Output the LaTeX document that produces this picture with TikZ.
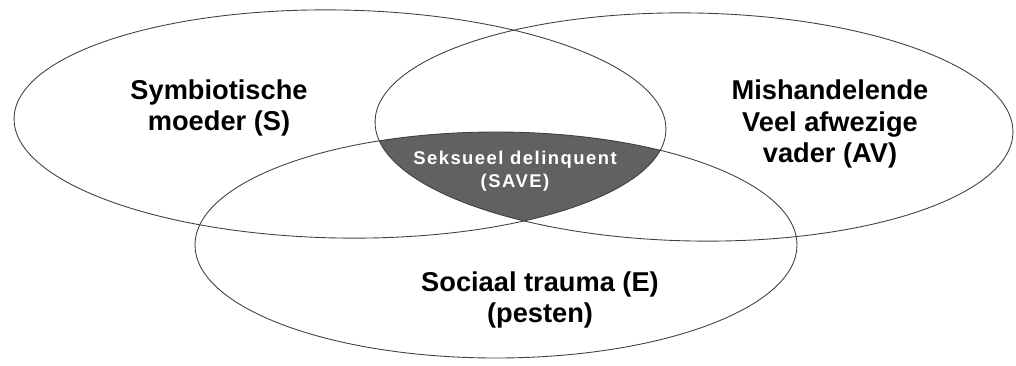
\documentclass[tikz,border=0pt]{standalone}
\usepackage{fontspec}
\setmainfont{Liberation Sans}
\newfontfamily\spatiefont[LetterSpace=8]{Liberation Sans}
\usetikzlibrary{positioning}
\tikzset{every picture/.style={line width=0.5pt}}
\tikzset{
  kring/.style={draw=black!75},
  groot/.style={font=\fontsize{15.5}{18}\selectfont\bfseries, align=center},
  klein/.style={font=\spatiefont\fontsize{10.5}{13}\selectfont\bfseries, align=center, text=white}
}

\begin{document}
\begin{tikzpicture}[x=0.02cm, y=-0.02cm]
        \useasboundingbox (0,0) rectangle (1016,365);
        % doorsnede van de drie kringen
        \begin{scope}
            \clip[rotate around={-1:(340,124)}] (340,124) ellipse [x radius=326, y radius=114];
            \clip[rotate around={-1:(694,127)}] (694,127) ellipse [x radius=319, y radius=114];
            \fill[black!62] (496,245) ellipse [x radius=301, y radius=113];
        \end{scope}
        % de drie kringen
        \draw[kring, rotate around={-1:(340,124)}] (340,124) ellipse [x radius=326, y radius=114];
        \draw[kring, rotate around={-1:(694,127)}] (694,127) ellipse [x radius=319, y radius=114];
        \draw[kring] (496,245) ellipse [x radius=301, y radius=113];
        % labels
        \node[groot] (s) at (219,108) {Symbiotische\\moeder (S)};
        \node[groot] (av) at (830,124) {Mishandelende\\Veel afwezige\\vader (AV)};
        \node[groot] (e) at (540,300) {Sociaal trauma (E)\\(pesten)};
        \node[klein] (save) at (515,171) {Seksueel delinquent\\(SAVE)};
    \end{tikzpicture}
\end{document}
